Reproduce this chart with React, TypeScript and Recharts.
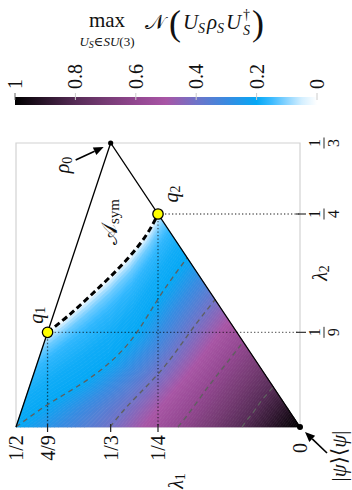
import React from "react";
import {
  Bar,
  BarChart,
  ComposedChart,
  ReferenceArea,
  Scatter,
  XAxis,
  YAxis,
} from "recharts";

type Pt = { l1: number; l2: number };

// negativity colour scale
const cmapLevels = [0, 0.05, 0.1, 0.15, 0.2, 0.3, 0.4, 0.5, 0.6, 0.7, 0.8, 0.9, 1];
const cmapColors = [
  "#ffffff", "#d4efff", "#8ad4ff", "#3cbbff", "#05a8f5", "#3a8ae0", "#6f73c8",
  "#a855a5", "#924790", "#763b74", "#562b56", "#2b152b", "#000000",
];
const colorbarTicks = [0, 0.2, 0.4, 0.6, 0.8, 1];

// axes
const xTicks = [1 / 2, 4 / 9, 1 / 3, 1 / 4, 0];
const xTickLabels = ["1/2", "4/9", "1/3", "1/4", "0"];
const yTicks = [1 / 9, 1 / 4, 1 / 3];
const yTickLabels = [["1", "9"], ["1", "4"], ["1", "3"]];

// corners of the spectrum triangle and the marked states
const rho0: Pt = { l1: 1 / 3, l2: 1 / 3 };
const pure: Pt = { l1: 0, l2: 0 };
const q1: Pt = { l1: 4 / 9, l2: 1 / 9 };
const q2: Pt = { l1: 1 / 4, l2: 1 / 4 };
const triangle: Pt[] = [{ l1: 1 / 2, l2: 0 }, rho0, pure];

// level lines of the negativity; level 0 bounds A_sym
const contourLevels = [0, 0.2, 0.4, 0.6, 0.8, 1];
const symEdge: Pt[] = [
  q1,
  { l1: 0.4085, l2: 0.1303 },
  { l1: 0.3715, l2: 0.1526 },
  { l1: 0.3345, l2: 0.1761 },
  { l1: 0.2993, l2: 0.2007 },
  { l1: 0.2694, l2: 0.2265 },
  q2,
];
const contour02: Pt[] = [
  { l1: 0.5, l2: 0 },
  { l1: 0.4454, l2: 0.0258 },
  { l1: 0.3908, l2: 0.0481 },
  { l1: 0.338, l2: 0.0739 },
  { l1: 0.2905, l2: 0.108 },
  { l1: 0.2465, l2: 0.1538 },
  { l1: 0.1986, l2: 0.1986 },
];
const contour04: Pt[] = [
  { l1: 0.3345, l2: 0 },
  { l1: 0.3099, l2: 0.02 },
  { l1: 0.2817, l2: 0.0399 },
  { l1: 0.25, l2: 0.0622 },
  { l1: 0.2201, l2: 0.0869 },
  { l1: 0.1884, l2: 0.1162 },
  { l1: 0.1495, l2: 0.1495 },
];
const contour06: Pt[] = [
  { l1: 0.2148, l2: 0 },
  { l1: 0.1954, l2: 0.0164 },
  { l1: 0.1761, l2: 0.034 },
  { l1: 0.1567, l2: 0.0516 },
  { l1: 0.1373, l2: 0.0681 },
  { l1: 0.118, l2: 0.0845 },
  { l1: 0.1, l2: 0.1 },
];
const contour08: Pt[] = [
  { l1: 0.1021, l2: 0 },
  { l1: 0.0933, l2: 0.0082 },
  { l1: 0.0845, l2: 0.0153 },
  { l1: 0.0757, l2: 0.0235 },
  { l1: 0.0669, l2: 0.0317 },
  { l1: 0.0563, l2: 0.0399 },
  { l1: 0.0472, l2: 0.0472 },
];
const contours = [symEdge, contour02, contour04, contour06, contour08, [pure]];

// how the colour rises across one band between level lines (position, share of the step)
const steepRise = [[0, 0], [0.08, 0.35], [0.2, 0.6], [0.4, 0.82], [0.7, 0.95], [1, 1]];
const evenRise = [[0, 0], [1, 1]];
const STRIPS = 22;

const FONT = "'Liberation Serif', 'DejaVu Serif', serif";

const hex = (h: string) => [1, 3, 5].map((i) => parseInt(h.slice(i, i + 2), 16));
const cmap = (v: number) => {
  const t = Math.max(0, Math.min(1, v));
  let i = 0;
  while (i < cmapLevels.length - 2 && t > cmapLevels[i + 1]) i++;
  const f = (t - cmapLevels[i]) / (cmapLevels[i + 1] - cmapLevels[i]);
  const a = hex(cmapColors[i]);
  const b = hex(cmapColors[i + 1]);
  return `rgb(${a.map((c, k) => Math.round(c + (b[k] - c) * f)).join(",")})`;
};
const ease = (table: number[][], t: number) => {
  let i = 0;
  while (i < table.length - 2 && t > table[i + 1][0]) i++;
  const [t0, s0] = table[i];
  const [t1, s1] = table[i + 1];
  return s0 + ((t - t0) / (t1 - t0)) * (s1 - s0);
};

const noDot = () => <g />;

// fill between two level lines, drawn as thin strips of constant colour
const bandFill = (band: number) => (props: any) => {
  const pts: { x: number; y: number }[] = props.points || [];
  const n = contours[band].length;
  const lower = pts.slice(0, n);
  const upper = pts.slice(n);
  if (!lower.length || !upper.length) return <g />;
  const up = (i: number) => upper[Math.min(i, upper.length - 1)];
  const lo = contourLevels[band];
  const hi = contourLevels[band + 1];
  const rise = band === 0 ? steepRise : evenRise;
  const edge = (t: number) =>
    lower.map((p, i) => ({ x: p.x + (up(i).x - p.x) * t, y: p.y + (up(i).y - p.y) * t }));
  const strips = [];
  for (let j = 0; j < STRIPS; j++) {
    const t0 = j / STRIPS;
    const t1 = (j + 1) / STRIPS;
    const a = edge(t0);
    const b = edge(t1).reverse();
    const color = cmap(lo + (hi - lo) * ease(rise, (t0 + t1) / 2));
    strips.push(
      <polygon
        key={j}
        points={[...a, ...b].map((c) => `${c.x},${c.y}`).join(" ")}
        fill={color}
        stroke={color}
        strokeWidth={0.7}
        strokeLinejoin="round"
      />
    );
  }
  return <g>{strips}</g>;
};

const Arrow = ({ x1, y1, x2, y2 }: { x1: number; y1: number; x2: number; y2: number }) => {
  const a = Math.atan2(y2 - y1, x2 - x1);
  const bx = x2 - 10 * Math.cos(a);
  const by = y2 - 10 * Math.sin(a);
  const w = 4.2;
  return (
    <g>
      <line x1={x1} y1={y1} x2={bx} y2={by} stroke="#000" strokeWidth={1.6} />
      <polygon
        points={`${x2},${y2} ${bx + w * Math.sin(a)},${by - w * Math.cos(a)} ${bx - w * Math.sin(a)},${by + w * Math.cos(a)}`}
        fill="#000"
      />
    </g>
  );
};

const Upright = ({ x, y, size = 20, children }: any) => (
  <text
    transform={`translate(${x},${y}) rotate(-90)`}
    textAnchor="middle"
    dominantBaseline="central"
    fontFamily={FONT}
    fontSize={size}
    fill="#111"
  >
    {children}
  </text>
);

const Rho0Mark = (p: any) => (
  <g>
    <circle cx={p.cx} cy={p.cy} r={2.6} fill="#000" />
    <Arrow x1={p.cx - 35} y1={p.cy + 17} x2={p.cx - 7} y2={p.cy + 4} />
    <Upright x={p.cx - 49} y={p.cy + 22}>
      <tspan fontStyle="italic">ρ</tspan>
      <tspan fontSize={14} dy={5}>0</tspan>
    </Upright>
  </g>
);

const PureMark = (p: any) => (
  <g>
    <circle cx={p.cx} cy={p.cy} r={3} fill="#000" />
    <Arrow x1={p.cx + 27} y1={p.cy + 26} x2={p.cx + 5} y2={p.cy + 5} />
    <Upright x={p.cx + 39} y={p.cy + 29} size={21}>
      |<tspan fontStyle="italic">ψ</tspan>⟩⟨<tspan fontStyle="italic">ψ</tspan>|
    </Upright>
  </g>
);

const qMark = (name: string, dx: number, dy: number) => (p: any) => (
  <g>
    <circle cx={p.cx} cy={p.cy} r={5.2} fill="#ffff00" stroke="#000" strokeWidth={1.3} />
    <Upright x={p.cx + dx} y={p.cy + dy}>
      <tspan fontStyle="italic">q</tspan>
      <tspan fontSize={14} dy={4}>{name}</tspan>
    </Upright>
  </g>
);

const SymLabel = (p: any) => (
  <Upright x={p.cx - 1} y={p.cy - 55} size={22}>
    𝒜<tspan fontSize={15} dy={5}>sym</tspan>
  </Upright>
);

const XTick = (props: any) => {
  const { x, y, payload } = props;
  const i = xTicks.findIndex((t) => Math.abs(t - payload.value) < 1e-6);
  const inner = i > 0 && i < xTicks.length - 1;
  return (
    <g>
      {inner && <line x1={x} x2={x} y1={y - 3} y2={y + 5} stroke="#222" strokeWidth={1.2} />}
      <Upright x={x} y={y + 21}>{xTickLabels[i]}</Upright>
    </g>
  );
};

const YTick = (props: any) => {
  const { x, y, payload } = props;
  const i = yTicks.findIndex((t) => Math.abs(t - payload.value) < 1e-6);
  const [num, den] = yTickLabels[i];
  return (
    <g>
      {i < yTicks.length - 1 && (
        <line x1={x - 4} x2={x + 6} y1={y} y2={y} stroke="#333" strokeWidth={1.2} />
      )}
      <g transform={`translate(${x + 24},${y}) rotate(-90)`} fontFamily={FONT} fontSize={16} fill="#111">
        <text x={0} y={-4} textAnchor="middle">{num}</text>
        <line x1={-5.5} x2={5.5} y1={0} y2={0} stroke="#111" strokeWidth={0.9} />
        <text x={0} y={15} textAnchor="middle">{den}</text>
      </g>
    </g>
  );
};

const ColorbarTick = (props: any) => {
  const { x, payload } = props;
  return (
    <g>
      <line x1={x} x2={x} y1={93} y2={100} stroke={payload.value === 1 ? "#666" : "#ccc"} strokeWidth={1} />
      <text
        transform={`translate(${x},89) rotate(-90)`}
        textAnchor="start"
        dominantBaseline="central"
        fontFamily={FONT}
        fontSize={20}
        fill="#111"
      >
        {payload.value}
      </text>
    </g>
  );
};

const guides: Pt[][] = [
  [q1, { l1: 0, l2: q1.l2 }],
  [q1, { l1: q1.l1, l2: 0 }],
  [q2, { l1: 0, l2: q2.l2 }],
  [q2, { l1: q2.l1, l2: 0 }],
];

const App = () => {
  return (
    <div style={{ position: "absolute", left: 0, top: 0, width: 352, height: 490, background: "#fff" }}>
      <div style={{ position: "absolute", left: 0, top: 0 }}>
        <BarChart
          width={352}
          height={105}
          layout="vertical"
          data={[{ name: "scale", v: 1 }]}
          margin={{ top: 0, left: 15, right: 35, bottom: 0 }}
          barCategoryGap={0}
        >
          <defs>
            <linearGradient id="colorbar" x1="0" y1="0" x2="1" y2="0">
              {cmapLevels.map((v) => (
                <stop key={v} offset={1 - v} stopColor={cmap(v)} />
              )).reverse()}
            </linearGradient>
          </defs>
          <XAxis
            type="number"
            orientation="top"
            domain={[0, 1]}
            reversed
            ticks={colorbarTicks}
            interval={0}
            height={97}
            axisLine={false}
            tickLine={false}
            tickSize={0}
            tickMargin={0}
            tick={ColorbarTick}
          />
          <YAxis type="category" dataKey="name" hide />
          <Bar dataKey="v" fill="url(#colorbar)" isAnimationActive={false} />
        </BarChart>
      </div>
      <div style={{ position: "absolute", left: 0, top: 0 }}>
        <ComposedChart width={352} height={490} margin={{ top: 143, left: 16, right: 0, bottom: 0 }}>
          <XAxis
            dataKey="l1"
            type="number"
            domain={[0, 0.5]}
            reversed
            ticks={xTicks}
            interval={0}
            height={63}
            axisLine={false}
            tickLine={false}
            tickSize={0}
            tickMargin={0}
            tick={XTick}
          />
          <YAxis
            dataKey="l2"
            type="number"
            orientation="right"
            domain={[0, 1 / 3]}
            ticks={yTicks}
            interval={0}
            width={52}
            axisLine={false}
            tickLine={false}
            tickSize={0}
            tickMargin={0}
            tick={YTick}
          />
          <ReferenceArea x1={0} x2={0.5} y1={0} y2={1 / 3} fill="none" stroke="#d2d2d2" strokeWidth={1.2} />
          {contours.slice(0, -1).map((c, k) => (
            <Scatter
              key={`band${k}`}
              data={[...c, ...contours[k + 1]]}
              shape={noDot}
              line={bandFill(k)}
              isAnimationActive={false}
            />
          ))}
          {[contour02, contour04, contour06, contour08].map((c, k) => (
            <Scatter
              key={`level${k}`}
              data={c}
              shape={noDot}
              line={{ stroke: "#5f5f5f", strokeWidth: 1.3, strokeDasharray: "5 4" }}
              lineJointType="natural"
              isAnimationActive={false}
            />
          ))}
          {guides.map((g, k) => (
            <Scatter
              key={`guide${k}`}
              data={g}
              shape={noDot}
              line={{ stroke: "#000", strokeOpacity: 0.6, strokeWidth: 1.3, strokeDasharray: "1.3 2.2" }}
              isAnimationActive={false}
            />
          ))}
          <Scatter
            data={triangle}
            shape={noDot}
            line={{ stroke: "#000", strokeWidth: 1.3 }}
            isAnimationActive={false}
          />
          <Scatter
            data={symEdge}
            shape={noDot}
            line={{ stroke: "#000", strokeWidth: 3, strokeDasharray: "6 3.5" }}
            lineJointType="natural"
            isAnimationActive={false}
          />
          <Scatter data={[symEdge[3]]} shape={SymLabel} isAnimationActive={false} />
          <Scatter data={[rho0]} shape={Rho0Mark} isAnimationActive={false} />
          <Scatter data={[pure]} shape={PureMark} isAnimationActive={false} />
          <Scatter data={[q1]} shape={qMark("1", -12, -17)} isAnimationActive={false} />
          <Scatter data={[q2]} shape={qMark("2", 13, -20)} isAnimationActive={false} />
        </ComposedChart>
      </div>
      <svg
        width={352}
        height={490}
        style={{ position: "absolute", left: 0, top: 0, pointerEvents: "none" }}
        fontFamily={FONT}
        fill="#111"
      >
        <text x={107} y={27} fontSize={21} textAnchor="middle">max</text>
        <text x={107} y={46} fontSize={13} textAnchor="middle">
          <tspan fontStyle="italic">U</tspan>
          <tspan fontStyle="italic" fontSize={10} dy={2}>S</tspan>
          <tspan dy={-2}>∈</tspan>
          <tspan fontStyle="italic">SU</tspan>(3)
        </text>
        <text x={145} y={29} fontSize={21}>𝒩</text>
        <text x={169} y={35} fontSize={36}>(</text>
        <text x={183} y={29} fontSize={21} fontStyle="italic">U</text>
        <text x={198} y={33} fontSize={14} fontStyle="italic">S</text>
        <text x={207} y={29} fontSize={21} fontStyle="italic">ρ</text>
        <text x={217} y={33} fontSize={14} fontStyle="italic">S</text>
        <text x={226} y={29} fontSize={21} fontStyle="italic">U</text>
        <text x={243} y={19} fontSize={14}>†</text>
        <text x={243} y={35} fontSize={14} fontStyle="italic">S</text>
        <text x={252} y={35} fontSize={36}>)</text>
        <Upright x={176} y={481}>
          <tspan fontStyle="italic">λ</tspan>
          <tspan fontSize={14} dy={4}>1</tspan>
        </Upright>
        <Upright x={320} y={273}>
          <tspan fontStyle="italic">λ</tspan>
          <tspan fontSize={14} dy={4}>2</tspan>
        </Upright>
      </svg>
    </div>
  );
};

export default App;
